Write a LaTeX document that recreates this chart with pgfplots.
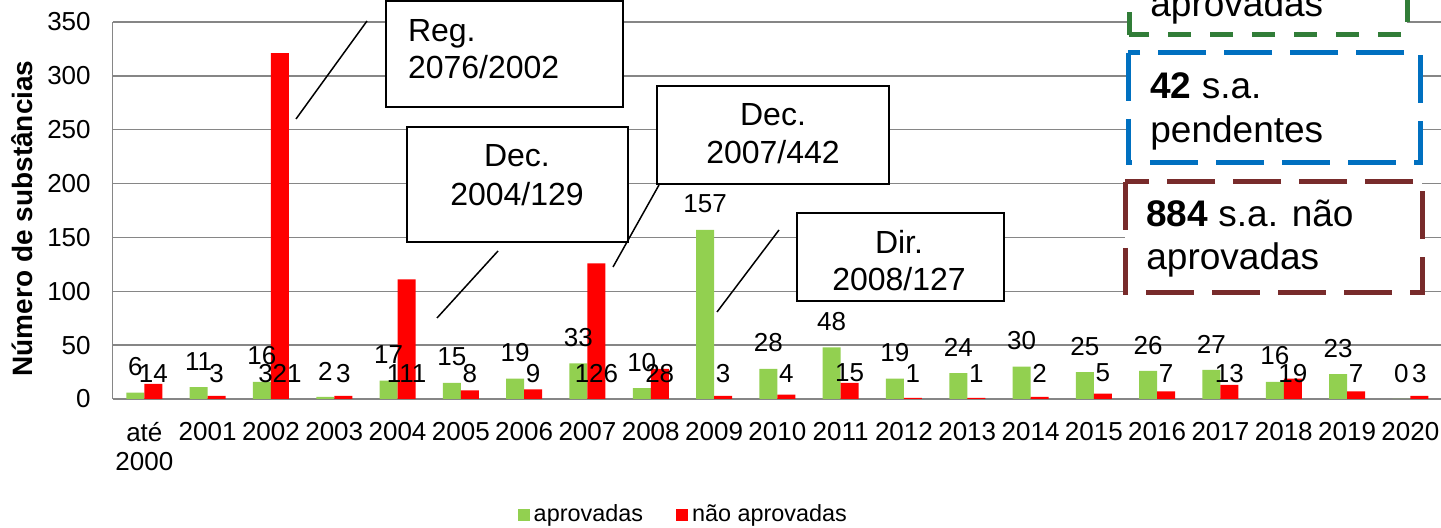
\documentclass[border=0pt]{standalone}
\usepackage{fontspec}
\setmainfont{Liberation Sans}
\usepackage{pgfplots}
\usepackage{pgfplotstable}
\pgfplotsset{compat=1.18}

\definecolor{verde}{RGB}{146,208,80}
\definecolor{vermelho}{RGB}{255,0,0}
\definecolor{grelha}{RGB}{134,134,134}
\definecolor{caixaverde}{RGB}{49,125,56}
\definecolor{caixaazul}{RGB}{0,112,192}
\definecolor{caixavinho}{RGB}{120,43,43}

% substâncias activas por ano
\pgfplotstableread{
x  ap   nap
0  6    14
1  11   3
2  16   321
3  2    3
4  17   111
5  15   8
6  19   9
7  33   126
8  10   28
9  157  3
10 28   4
11 48   15
12 19   1
13 24   1
14 30   2
15 25   5
16 26   7
17 27   13
18 16   19
19 23   7
20 0    3
}\dados

\newcommand{\fnum}{\fontsize{13}{14.5}\selectfont}
\newcommand{\fcaixa}{\fontsize{16}{18.5}\selectfont}
\newcommand{\fdir}{\fontsize{18.5}{21.5}\selectfont}

\begin{document}
\begin{tikzpicture}
\path[use as bounding box, clip] (-56.35pt,-64.5pt) rectangle (664.15pt,199.5pt);
\begin{axis}[
    scale only axis, width=664.65pt, height=188.5pt,
    xmin=-0.5, xmax=20.5, ymin=0, ymax=350,
    xtick={0,...,20},
    xticklabels={{até\\2000},2001,2002,2003,2004,2005,2006,2007,2008,2009,2010,2011,2012,2013,2014,2015,2016,2017,2018,2019,2020},
    ytick={0,50,...,350},
    major tick length=0,
    axis lines*=left,
    axis line style={grelha, line width=0.75pt},
    ymajorgrids, grid style={grelha, line width=0.75pt},
    tick label style={font=\fnum},
    xticklabel style={align=center, yshift=-8pt},
    yticklabel style={xshift=-7.5pt},
    /pgf/number format/assume math mode=true,
    every axis y label/.style={at={(axis description cs:-0.0679,0.479)}, rotate=90, anchor=center},
    ylabel={\fontsize{14}{16}\selectfont\bfseries Número de substâncias},
    legend style={at={(0.43,-0.3077)}, anchor=center, draw=none, fill=none,
        legend columns=2, font=\fontsize{11.7}{13}\selectfont,
        /tikz/every even column/.append style={column sep=14.5pt}},
    legend image code/.code={\draw[#1,draw=none] (0pt,-3pt) rectangle (6pt,3pt);},
]
\addplot[ybar, bar width=9pt, bar shift=-4.5pt, fill=verde, draw=none,
    nodes near coords, every node near coord/.append style={font=\fnum, anchor=center, xshift=-4.5pt, yshift=12.9pt}]
    table[x=x, y=ap] {\dados};
\addlegendentry{aprovadas}
\addplot[ybar, bar width=9pt, bar shift=4.5pt, fill=vermelho, draw=none,
    nodes near coords, visualization depends on={\thisrow{nap} \as \ry},
    every node near coord/.append style={font=\fnum, anchor=center, xshift=4.5pt, yshift={(24-\ry)*0.5385pt}}]
    table[x=x, y=nap] {\dados};
\addlegendentry{não aprovadas}
\end{axis}

% caixas de legislação
\begin{scope}[line width=1pt]
\draw[fill=white] (136.65pt,146pt) rectangle (255.15pt,199pt);
\node[anchor=base west, inner sep=0pt, font=\fcaixa] at (147.15pt,178.5pt) {Reg.};
\node[anchor=base west, inner sep=0pt, font=\fcaixa] at (147.15pt,160pt) {2076/2002};

\draw[fill=white] (147.15pt,136pt) rectangle (257.65pt,78.5pt);
\node[anchor=base, inner sep=0pt, font=\fcaixa] at (202.15pt,116pt) {Dec.};
\node[anchor=base, inner sep=0pt, font=\fcaixa] at (202.15pt,96.5pt) {2004/129};

\draw[fill=white] (272.15pt,156.5pt) rectangle (388.15pt,107.5pt);
\node[anchor=base, inner sep=0pt, font=\fcaixa] at (330.15pt,136.5pt) {Dec.};
\node[anchor=base, inner sep=0pt, font=\fcaixa] at (330.15pt,117.5pt) {2007/442};

\draw[fill=white] (342.15pt,93pt) rectangle (445.65pt,49pt);
\node[anchor=base, inner sep=0pt, font=\fcaixa] at (393.15pt,72.5pt) {Dir.};
\node[anchor=base, inner sep=0pt, font=\fcaixa] at (393.15pt,54pt) {2008/127};
\end{scope}

\begin{scope}[line width=0.75pt]
\draw (91.65pt,140pt) -- (127.15pt,189pt);
\draw (162.15pt,40.5pt) -- (192.65pt,74pt);
\draw (250.15pt,66pt) -- (273.15pt,107pt);
\draw (302.15pt,43.5pt) -- (333.15pt,84.5pt);
\end{scope}

% totais
\draw[caixaverde, line width=2.5pt, dash pattern=on 11.5pt off 9.5pt, fill=white]
    (508.15pt,182pt) rectangle (647.15pt,237pt);
\node[anchor=base west, inner sep=0pt, font=\fdir] at (518.65pt,191pt) {aprovadas};

\draw[caixaazul, line width=2.5pt, dash pattern=on 24pt off 9pt, fill=white]
    (507.65pt,173pt) rectangle (653.65pt,118pt);
\node[anchor=base west, inner sep=0pt, font=\fdir] at (518.65pt,150pt) {\textbf{42} s.a.};
\node[anchor=base west, inner sep=0pt, font=\fdir] at (518.65pt,128pt) {pendentes};

\draw[caixavinho, line width=2.5pt, dash pattern=on 24pt off 9pt, fill=white]
    (506.15pt,108.5pt) rectangle (654.65pt,53pt);
\node[anchor=base west, inner sep=0pt, font=\fdir] at (516.65pt,86pt) {\textbf{884} s.a. não};
\node[anchor=base west, inner sep=0pt, font=\fdir] at (516.65pt,64.5pt) {aprovadas};
\end{tikzpicture}
\end{document}
